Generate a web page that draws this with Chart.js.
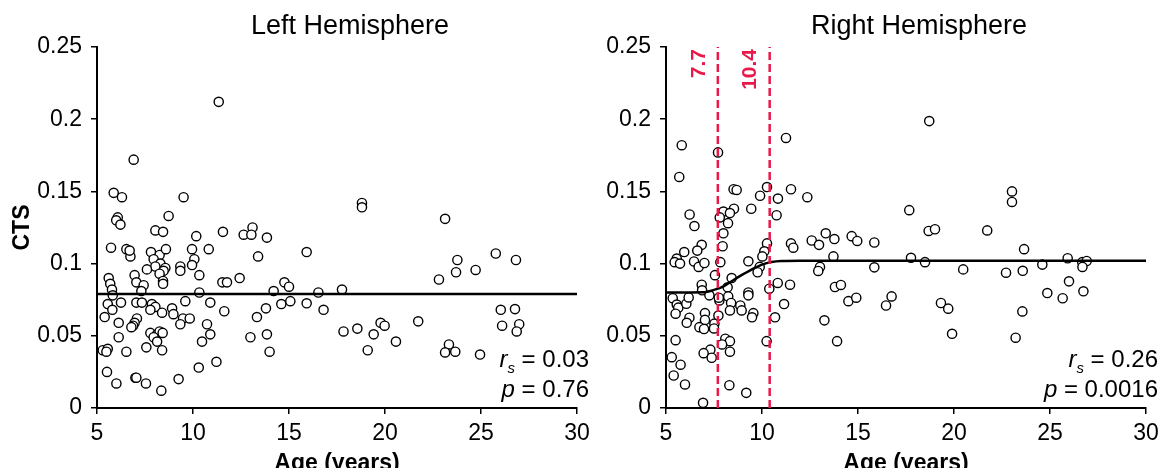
<!DOCTYPE html>
<html>
<head>
<meta charset="utf-8">
<script src="https://cdn.jsdelivr.net/npm/chart.js@4.4.1/dist/chart.umd.min.js"></script>
<style>
  body { margin: 0; width: 1165px; height: 468px; overflow: hidden; background: #fff; }
  canvas { position: absolute; top: 0; }
  #leftChart { left: 0; }
  #rightChart { left: 590px; }
</style>
</head>
<body>
<canvas id="leftChart" width="600" height="479"></canvas>
<canvas id="rightChart" width="575" height="479"></canvas>
<script>
// ticks
const xTickLabels = ['5', '10', '15', '20', '25', '30'];
const yTickLabels = ['0', '0.05', '0.1', '0.15', '0.2', '0.25'];

// left hemisphere, age vs CTS
const leftAge = [11.34, 6.91, 5.87, 6.30, 9.51, 8.73, 6.08, 6.00, 6.22, 8.04, 8.44, 11.56, 13.10, 12.64, 13.04, 13.85, 10.17,
  5.73, 6.53, 6.74, 6.70, 7.81, 8.26, 8.59, 9.95, 10.82, 7.95, 10.07, 13.39, 8.30, 8.56, 8.04, 9.34, 9.34, 9.95, 7.60,
  8.47, 8.26, 6.96, 10.33, 5.61, 5.69, 7.05, 8.44, 8.44, 7.43, 12.43, 11.53, 11.77, 14.76, 15.00, 14.20, 5.78, 7.31,
  10.33, 5.82, 5.56, 6.25, 7.05, 7.34, 7.86, 5.80, 8.04, 7.78, 9.60, 10.90, 8.91, 8.98, 8.39, 11.63, 14.60, 15.07,
  13.80, 13.33, 5.40, 6.13, 7.08, 6.96, 6.88, 6.79, 9.48, 9.83, 9.34, 10.73, 6.13, 7.78, 8.13, 8.26, 8.42, 7.95, 8.13,
  10.90, 10.47, 12.99, 13.85, 13.99, 5.30, 5.56, 5.49, 6.53, 7.57, 8.39, 11.22, 5.52, 7.00, 7.05, 6.01, 7.55, 9.25,
  10.30, 8.35,
  15.92, 18.80, 18.80, 16.53, 17.76, 15.92, 16.80, 17.84, 18.56, 19.41, 19.77, 19.98, 19.10, 20.57, 21.73, 23.13,
  23.77, 23.70, 22.81, 24.72, 25.77, 26.82, 26.03, 26.77, 26.10, 26.99, 26.86, 23.33, 23.13, 23.66, 24.95];
const leftCts = [0.212, 0.172, 0.149, 0.146, 0.146, 0.133, 0.132, 0.130, 0.127, 0.123, 0.122, 0.122, 0.125, 0.120, 0.120, 0.118, 0.119,
  0.111, 0.110, 0.105, 0.109, 0.108, 0.106, 0.110, 0.110, 0.110, 0.103, 0.103, 0.105, 0.100, 0.097, 0.098, 0.098, 0.095, 0.099, 0.096,
  0.095, 0.093, 0.092, 0.092, 0.090, 0.086, 0.087, 0.088, 0.086, 0.085, 0.090, 0.087, 0.087, 0.087, 0.084, 0.081, 0.082, 0.081,
  0.080, 0.078, 0.072, 0.073, 0.073, 0.073, 0.072, 0.068, 0.070, 0.068, 0.074, 0.073, 0.069, 0.065, 0.066, 0.067, 0.072, 0.074,
  0.069, 0.063, 0.063, 0.059, 0.062, 0.059, 0.057, 0.056, 0.062, 0.062, 0.058, 0.058, 0.049, 0.052, 0.051, 0.053, 0.052, 0.049, 0.046,
  0.051, 0.046, 0.049, 0.051, 0.039, 0.040, 0.041, 0.039, 0.039, 0.042, 0.040, 0.032, 0.025, 0.021, 0.021, 0.017, 0.017, 0.020,
  0.028, 0.012,
  0.108, 0.142, 0.139, 0.080, 0.082, 0.0725, 0.068, 0.053, 0.055, 0.051, 0.059, 0.057, 0.040, 0.046, 0.060, 0.131,
  0.1025, 0.094, 0.089, 0.0956, 0.107, 0.1025, 0.068, 0.0685, 0.057, 0.058, 0.053, 0.044, 0.0385, 0.039, 0.037];

// right hemisphere
const rightAge = [5.82, 7.71, 11.25, 5.69, 8.52, 8.68, 10.26, 11.51, 9.90, 10.83, 10.76, 9.44, 8.54, 7.99, 8.33, 7.80, 8.23,
  6.23, 6.48, 7.99, 7.95, 6.86, 6.63, 5.95, 5.56, 5.45, 5.73, 6.46, 6.70, 7.00, 7.83, 9.29, 10.26, 10.12, 10.02, 11.51,
  11.63, 9.88, 9.77, 7.55, 8.42, 6.86, 6.88, 9.29, 9.29, 10.82, 11.46, 10.38, 7.26, 7.78, 7.75, 8.21, 8.24, 8.39, 8.33,
  8.87, 8.94, 5.35, 5.56, 5.64, 6.06, 6.18, 5.50, 6.22, 6.08, 7.03, 7.03, 6.74, 6.98, 7.52, 7.50, 7.73, 9.55, 9.48,
  10.68, 11.15, 5.50, 8.09, 8.33, 7.92, 8.33, 10.24, 7.31, 6.96, 7.38, 5.30, 5.76, 5.40, 5.99, 8.30, 9.18, 6.93,
  12.36, 12.59, 12.97, 13.32, 13.77, 14.67, 14.96, 15.85, 13.72, 17.67, 18.71, 18.68, 19.01, 17.76, 18.49, 13.02,
  12.93, 15.85, 13.80, 14.11, 14.50, 14.91, 16.46, 16.75, 19.32, 19.70, 19.90, 13.25, 13.91,
  20.48, 23.02, 23.02, 21.73, 23.65, 22.71, 23.58, 24.60, 25.92, 26.68, 26.91, 26.69, 25.99, 24.86, 25.66, 26.74,
  23.56, 23.21];
const rightCts = [0.182, 0.177, 0.187, 0.160, 0.1515, 0.151, 0.153, 0.1515, 0.147, 0.145, 0.1335, 0.138, 0.138, 0.136, 0.135, 0.132, 0.128,
  0.134, 0.126, 0.121, 0.112, 0.113, 0.109, 0.108, 0.1035, 0.101, 0.100, 0.1015, 0.0977, 0.1004, 0.101, 0.1016, 0.114, 0.1085, 0.105, 0.114,
  0.111, 0.0977, 0.094, 0.092, 0.090, 0.0854, 0.0815, 0.080, 0.078, 0.0866, 0.0854, 0.0826, 0.078, 0.0745, 0.0764, 0.0836, 0.0773, 0.0727, 0.0676,
  0.071, 0.0676, 0.076, 0.0716, 0.0695, 0.0722, 0.0766, 0.0653, 0.0625, 0.059, 0.0657, 0.061, 0.056, 0.0547, 0.0584, 0.0551, 0.064, 0.0657, 0.0628,
  0.0628, 0.072, 0.047, 0.048, 0.0463, 0.044, 0.039, 0.0463, 0.0404, 0.038, 0.0348, 0.0352, 0.030, 0.0225, 0.0163, 0.0158, 0.0105, 0.0036,
  0.146, 0.116, 0.113, 0.121, 0.117, 0.119, 0.1157, 0.1146, 0.105, 0.137, 0.1987, 0.1226, 0.1238, 0.104, 0.101, 0.0977,
  0.0949, 0.0974, 0.0838, 0.0852, 0.074, 0.0764, 0.071, 0.0773, 0.0727, 0.0688, 0.0514, 0.0607, 0.0463,
  0.096, 0.150, 0.1427, 0.123, 0.110, 0.0937, 0.095, 0.0993, 0.1037, 0.101, 0.1018, 0.0977, 0.0877, 0.0796, 0.076, 0.0808,
  0.0669, 0.0487];

// fitted curves
const leftFitAge = [5, 30];
const leftFitCts = [0.079, 0.079];
const rightFitAge = [5, 7, 7.5, 8, 8.5, 9, 9.5, 10, 10.5, 11, 12, 30];
const rightFitCts = [0.080, 0.0802, 0.0818, 0.0843, 0.0885, 0.0925, 0.0962, 0.0993, 0.1011, 0.1018, 0.102, 0.102];

// breakpoints on the right side
const splitAges = [7.7, 10.4];

const FONT = '"Liberation Sans", Arial, Helvetica, sans-serif';
const RED = '#e8184a';

const pts = (xs, ys) => xs.map((x, i) => ({ x: x, y: ys[i] }));

// titles, r_s / p text and the red labels
function annot(title, rs, p, marks) {
  return {
    id: 'annot',
    afterDraw(chart) {
      const ctx = chart.ctx, a = chart.chartArea, xs = chart.scales.x;
      ctx.save();
      ctx.fillStyle = '#000';
      ctx.textBaseline = 'alphabetic';
      ctx.textAlign = 'center';
      ctx.font = '27px ' + FONT;
      ctx.fillText(title, (a.left + a.right) / 2 + 13, 34);

      const rightX = a.right + 12;
      statLine(ctx, [['r', 'italic 24px', 0], ['s', 'italic 15px', 6], [' = ' + rs, '24px', 0]], rightX, 367);
      statLine(ctx, [['p', 'italic 24px', 0], [' = ' + p, '24px', 0]], rightX, 397);

      marks.forEach(m => {
        ctx.save();
        ctx.translate(xs.getPixelForValue(m) - 19, a.top + 2);
        ctx.rotate(-Math.PI / 2);
        ctx.font = 'bold 21px ' + FONT;
        ctx.fillStyle = RED;
        ctx.textAlign = 'right';
        ctx.textBaseline = 'middle';
        ctx.fillText(String(m), 0, 0);
        ctx.restore();
      });
      ctx.restore();
    }
  };
}

// draw pieces right-aligned ending at x
function statLine(ctx, parts, x, y) {
  let w = 0;
  parts.forEach(pp => { ctx.font = pp[1] + ' ' + FONT; w += ctx.measureText(pp[0]).width; });
  let cx = x - w;
  ctx.textAlign = 'left';
  parts.forEach(pp => {
    ctx.font = pp[1] + ' ' + FONT;
    ctx.fillText(pp[0], cx, y + pp[2]);
    cx += ctx.measureText(pp[0]).width;
  });
}

function makeChart(id, o) {
  const datasets = [
    { data: pts(o.age, o.cts), pointRadius: 4.6, borderWidth: 1.4, borderColor: '#000', backgroundColor: '#fff', order: 2 },
    { data: pts(o.fitAge, o.fitCts), showLine: true, pointRadius: 0, borderColor: '#000', borderWidth: 2.5,
      cubicInterpolationMode: 'monotone', order: 1 }
  ];
  o.marks.forEach(m => {
    datasets.push({ data: [{ x: m, y: 0 }, { x: m, y: 0.25 }], showLine: true, pointRadius: 0,
      borderColor: RED, borderWidth: 2.5, borderDash: [8, 4], order: 0 });
  });

  return new Chart(document.getElementById(id), {
    type: 'scatter',
    data: { datasets: datasets },
    options: {
      responsive: false,
      animation: false,
      events: [],
      layout: { padding: { top: 47, right: o.padRight, left: 0, bottom: 0 } },
      plugins: { legend: { display: false }, tooltip: { enabled: false } },
      scales: {
        x: {
          type: 'linear', min: 5, max: 30,
          afterFit: s => { s.height = 71; },
          ticks: { stepSize: 5, padding: 6, color: '#000', font: { size: 23, family: FONT },
            callback: (v, i) => xTickLabels[i] },
          grid: { drawOnChartArea: false, color: '#000', lineWidth: 1.5, tickLength: 6 },
          border: { color: '#000', width: 2 },
          title: { display: true, text: 'Age (years)', color: '#000', font: { size: 23, weight: 'bold', family: FONT },
            padding: { top: 0, bottom: 2 } }
        },
        y: {
          min: 0, max: 0.25,
          afterFit: s => { s.width = o.yWidth; },
          ticks: { stepSize: 0.05, padding: 9, color: '#000', font: { size: 23, family: FONT },
            callback: (v, i) => yTickLabels[i] },
          grid: { drawOnChartArea: false, color: '#000', lineWidth: 1.5, tickLength: 6 },
          border: { color: '#000', width: 2 },
          title: { display: o.yTitle, text: 'CTS', color: '#000', font: { size: 23, weight: 'bold', family: FONT },
            padding: { top: 9, bottom: 0 } }
        }
      }
    },
    plugins: [annot(o.title, o.rs, o.p, o.marks)]
  });
}

makeChart('leftChart', { age: leftAge, cts: leftCts, fitAge: leftFitAge, fitCts: leftFitCts, marks: [],
  title: 'Left Hemisphere', rs: '0.03', p: '0.76', yWidth: 97, padRight: 23, yTitle: true });
makeChart('rightChart', { age: rightAge, cts: rightCts, fitAge: rightFitAge, fitCts: rightFitCts, marks: splitAges,
  title: 'Right Hemisphere', rs: '0.26', p: '0.0016', yWidth: 76, padRight: 19, yTitle: false });
</script>
</body>
</html>
